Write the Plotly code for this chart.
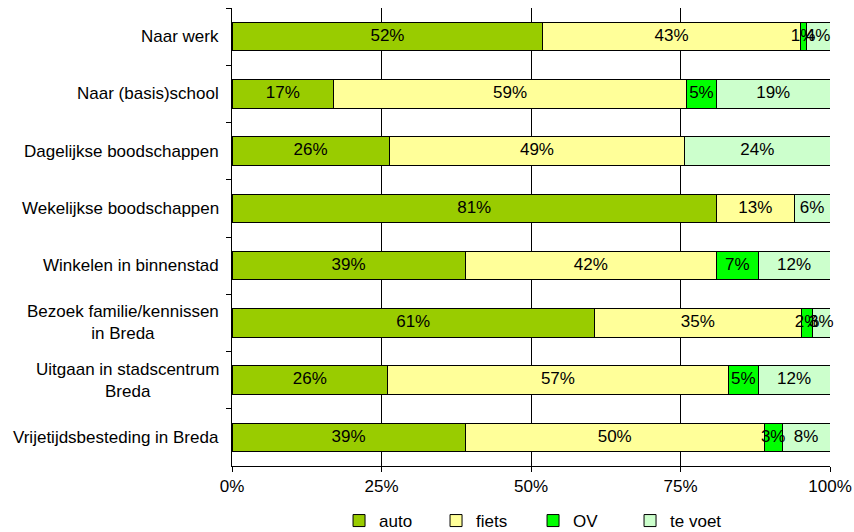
import plotly.graph_objects as go

categories = [
    "Naar werk",
    "Naar (basis)school",
    "Dagelijkse boodschappen",
    "Wekelijkse boodschappen",
    "Winkelen in binnenstad",
    "Bezoek familie/kennissen<br>in Breda",
    "Uitgaan in stadscentrum<br>Breda",
    "Vrijetijdsbesteding in Breda",
]
auto = [52, 17, 26.3, 81, 39, 60.6, 26, 39]
fiets = [43, 59, 49.4, 13, 42, 34.6, 57, 50]
ov = [1, 5, 0, 0, 7, 1.9, 5, 3]
te_voet = [4, 19, 24.3, 6, 12, 2.9, 12, 8]

series = [
    ("auto", auto, "#99CC00"),
    ("fiets", fiets, "#FFFF99"),
    ("OV", ov, "#00FF00"),
    ("te voet", te_voet, "#CCFFCC"),
]

font_family = "Arial, Liberation Sans, sans-serif"
FS = 17

fig = go.Figure()
for name, vals, col in series:
    fig.add_trace(go.Bar(
        y=categories,
        x=vals,
        name=name,
        orientation="h",
        marker=dict(color=col, line=dict(color="#000000", width=1)),
        hoverinfo="skip",
    ))

# segment labels, centred on each stacked segment
base = [0.0] * len(categories)
for name, vals, col in series:
    mids, labels, ys = [], [], []
    for i, v in enumerate(vals):
        if v > 0:
            mids.append(base[i] + v / 2)
            labels.append(f"{round(v)}%")
            ys.append(categories[i])
        base[i] += v
    fig.add_trace(go.Scatter(
        x=mids, y=ys, text=labels, mode="text",
        textposition="middle center",
        textfont=dict(color="#000000", size=FS, family=font_family),
        showlegend=False, hoverinfo="skip", cliponaxis=False,
    ))

for c in categories:
    fig.add_annotation(
        x=0, xref="paper", y=c, yref="y",
        text=c, showarrow=False,
        xanchor="right", align="center",
        xshift=-11,
        font=dict(size=FS, color="#000000", family=font_family),
    )

fig.update_layout(
    barmode="stack",
    bargap=0.5,
    width=854,
    height=532,
    margin=dict(l=232, r=24, t=8, b=66, autoexpand=False),
    paper_bgcolor="white",
    plot_bgcolor="white",
    font=dict(family=font_family, size=FS, color="#000000"),
    showlegend=True,
    legend=dict(
        orientation="h",
        xref="container", yref="container",
        x=0.397, xanchor="left",
        y=1 - 521 / 532, yanchor="middle",
        font=dict(size=FS, family=font_family),
        itemwidth=30,
        entrywidth=52,
        traceorder="normal",
        bgcolor="rgba(0,0,0,0)",
    ),
    xaxis=dict(
        range=[0, 100],
        tickvals=[0, 25, 50, 75, 100],
        ticktext=["0%", "25%", "50%", "75%", "100%"],
        showgrid=True,
        gridcolor="#000000",
        gridwidth=1,
        showline=True,
        linecolor="#000000",
        linewidth=1,
        ticks="outside",
        ticklen=5,
        tickcolor="#000000",
        zeroline=False,
        automargin=False,
        tickfont=dict(size=FS),
    ),
    yaxis=dict(
        categoryorder="array",
        categoryarray=categories,
        autorange="reversed",
        showticklabels=False,
        showline=True,
        linecolor="#000000",
        linewidth=1,
        ticks="outside",
        ticklen=5,
        tickcolor="#000000",
        tickson="boundaries",
        showgrid=False,
        zeroline=False,
        automargin=False,
    ),
)

fig.write_html(
    "out.html",
    config={"displayModeBar": False},
    post_script="document.body.style.margin='0';",
)
